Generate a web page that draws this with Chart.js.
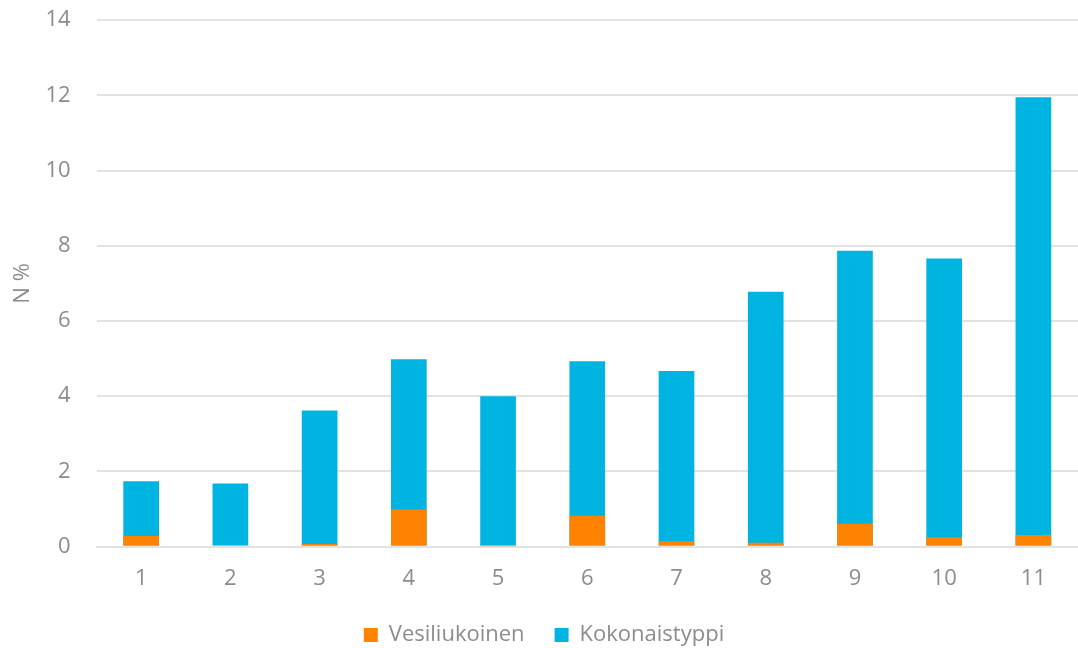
<!DOCTYPE html>
<html>
<head>
<meta charset="utf-8">
<script src="https://cdn.jsdelivr.net/npm/chart.js@4"></script>
<style>
  html, body { margin: 0; padding: 0; background: #ffffff; }
  #wrap { width: 1078px; height: 648px; position: relative; }
</style>
</head>
<body>
<div id="wrap"><canvas id="myChart"></canvas></div>
<script>
// sample labels along the x axis
const categories = ["1", "2", "3", "4", "5", "6", "7", "8", "9", "10", "11"];
// water-soluble nitrogen, N %
const vesiliukoinen = [0.28, 0.02, 0.07, 0.99, 0.01, 0.82, 0.14, 0.1, 0.61, 0.25, 0.31];
// total nitrogen, N %
const kokonaistyppi = [1.74, 1.68, 3.62, 4.98, 4.0, 4.93, 4.67, 6.78, 7.87, 7.66, 11.95];
const yTicks = [0, 2, 4, 6, 8, 10, 12, 14];

const textColor = "#8c8c8c";
const fontFamily = "'Open Sans', 'Noto Sans', sans-serif";
const hidden = "rgba(0,0,0,0)";

const ctx = document.getElementById("myChart").getContext("2d");
new Chart(ctx, {
  type: "bar",
  data: {
    labels: categories,
    datasets: [
      {
        label: "Vesiliukoinen",
        data: vesiliukoinen,
        backgroundColor: "#ff8300",
        grouped: false,
        order: 0, // drawn on top
        barPercentage: 0.4,
        categoryPercentage: 1.0,
      },
      {
        label: "Kokonaistyppi",
        data: kokonaistyppi,
        backgroundColor: "#00b4e1",
        grouped: false,
        order: 1,
        barPercentage: 0.4,
        categoryPercentage: 1.0,
      },
    ],
  },
  options: {
    responsive: true,
    maintainAspectRatio: false,
    animation: false,
    layout: { padding: { top: 3, right: 0, left: 10, bottom: -8 } },
    plugins: {
      tooltip: { enabled: false },
      legend: {
        position: "bottom",
        labels: {
          boxWidth: 14,
          boxHeight: 14,
          padding: 30,
          color: textColor,
          font: { family: fontFamily, size: 22 },
        },
      },
    },
    scales: {
      x: {
        // invisible tick marks push the labels down (tick padding counts twice)
        grid: { drawOnChartArea: false, tickLength: 17, tickColor: hidden },
        border: { color: "#e2e2e2", width: 2 },
        ticks: {
          color: textColor,
          padding: 2,
          font: { family: fontFamily, size: 22 },
        },
      },
      y: {
        min: 0,
        max: 14,
        afterBuildTicks: (axis) => {
          axis.ticks = yTicks.map((v) => ({ value: v }));
        },
        grid: { color: "#e2e2e2", lineWidth: 2, tickLength: 19, tickColor: hidden },
        border: { display: false },
        title: {
          display: true,
          text: "N %",
          color: textColor,
          padding: { top: 0, bottom: 2 },
          font: { family: fontFamily, size: 22 },
        },
        ticks: {
          color: textColor,
          padding: 7,
          font: { family: fontFamily, size: 22 },
        },
      },
    },
  },
});
</script>
</body>
</html>
